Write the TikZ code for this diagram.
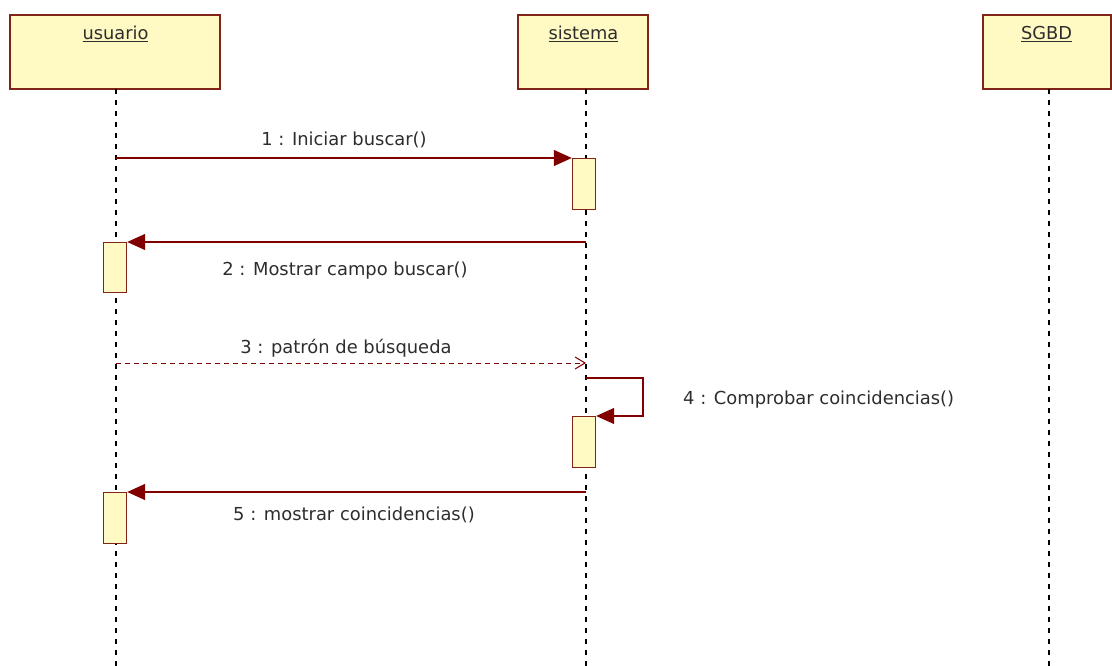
\documentclass[tikz,border=0pt]{standalone}
\usepackage{fontspec}
\setmainfont{DejaVu Sans}
\usetikzlibrary{arrows.meta}
\definecolor{umlfill}{RGB}{255,250,196}
\definecolor{umlborder}{RGB}{128,36,24}
\definecolor{msgred}{RGB}{128,0,0}
\definecolor{labelgray}{RGB}{45,45,45}
\begin{document}
\begin{tikzpicture}[x=1pt,y=-1pt,
  objbox/.style={draw=umlborder, line width=1.6pt, fill=umlfill, inner sep=0pt, minimum height=74pt, anchor=north},
  objname/.style={font=\fontsize{17.8}{20}\selectfont, text=labelgray, inner sep=0pt, anchor=base},
  actbar/.style={draw=umlborder, line width=1.4pt, fill=umlfill, inner sep=0pt, minimum width=23pt, anchor=north},
  lifeline/.style={black, line width=1.6pt, dash pattern=on 5pt off 6pt},
  callmsg/.style={msgred, line width=1.3pt, -{Triangle[length=18pt,width=16pt]}},
  asyncmsg/.style={msgred, line width=1pt, dash pattern=on 5pt off 4pt, -{Straight Barb[length=10pt,width=12pt]}},
  msglabel/.style={font=\fontsize{17.9}{20}\selectfont, text=labelgray, inner sep=0pt, anchor=base}
]
\useasboundingbox (0,0) rectangle (1112,666);

% object boxes
\node[objbox, minimum width=210pt] (u) at (115,14) {};
\node[objbox, minimum width=130pt] (s) at (583,14) {};
\node[objbox, minimum width=128pt] (g) at (1047,14) {};
\node[objname] (uname) at (115.5,40) {\underline{usuario}};
\node[objname] (sname) at (583.5,40) {\underline{sistema}};
\node[objname] (gname) at (1046.5,40) {\underline{SGBD}};

% lifeline ends
\coordinate (uTop) at (116,89);
\coordinate (uBot) at (116,666);
\coordinate (sTop) at (586,89);
\coordinate (sBot) at (586,666);
\coordinate (gTop) at (1049,89);
\coordinate (gBot) at (1049,666);
\draw[lifeline] (uTop) -- (uBot);
\draw[lifeline] (sTop) -- (sBot);
\draw[lifeline] (gTop) -- (gBot);

% activation bars
\node[actbar, minimum height=51pt] (sa1) at (584,158) {};
\node[actbar, minimum height=50pt] (ua1) at (115,242) {};
\node[actbar, minimum height=51pt] (sa2) at (584,416) {};
\node[actbar, minimum height=51pt] (ua2) at (115,492) {};

% message anchor points
\coordinate (m1s) at (116,158);
\coordinate (m2s) at (586,242);
\coordinate (m3s) at (116,363);
\coordinate (m3e) at (586,363);
\coordinate (m4s) at (586,378);
\coordinate (m4c) at (643,378);
\coordinate (m5s) at (586,492);

% messages
\draw[callmsg] (m1s) -- (sa1.north west);
\node[msglabel] (l1) at (344,146) {1 : Iniciar buscar()};

\draw[callmsg] (m2s) -- (ua1.north east);
\node[msglabel] (l2) at (345,275) {2 : Mostrar campo buscar()};

\draw[asyncmsg] (m3s) -- (m3e);
\node[msglabel] (l3) at (346,353) {3 : patrón de búsqueda};

\draw[callmsg] (m4s) -- (m4c) |- (sa2.north east);
\node[msglabel, anchor=base west] (l4) at (683,404) {4 : Comprobar coincidencias()};

\draw[callmsg] (m5s) -- (ua2.north east);
\node[msglabel] (l5) at (354,520) {5 : mostrar coincidencias()};
\end{tikzpicture}
\end{document}
